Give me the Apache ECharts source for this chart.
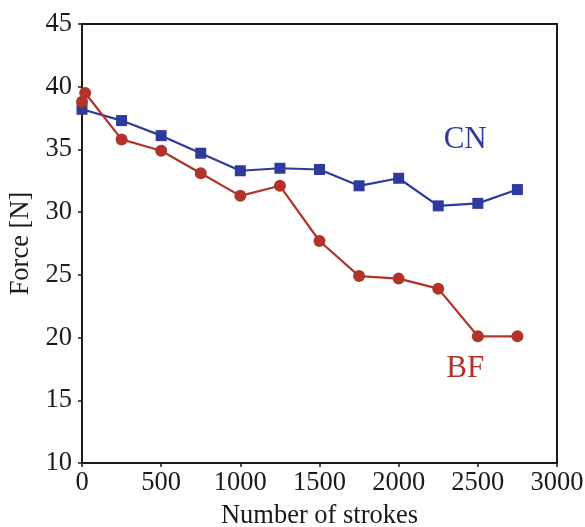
<!DOCTYPE html>
<html>
<head>
<meta charset="utf-8">
<script src="https://cdn.jsdelivr.net/npm/echarts@6/dist/echarts.min.js"></script>
<style>
  html, body { margin: 0; padding: 0; background: #fff; }
  #chart { width: 585px; height: 527px; }
</style>
</head>
<body>
<div id="chart"></div>
<script>
// data
const cnStrokes = [0, 250, 500, 750, 1000, 1250, 1500, 1750, 2000, 2250, 2500, 2750]
const cnForce = [38.2, 37.3, 36.1, 34.7, 33.3, 33.5, 33.4, 32.1, 32.7, 30.5, 30.7, 31.8]
const bfStrokes = [0, 20, 250, 500, 750, 1000, 1250, 1500, 1750, 2000, 2250, 2500, 2750]
const bfForce = [38.8, 39.5, 35.8, 34.9, 33.1, 31.3, 32.1, 27.7, 24.9, 24.7, 23.9, 20.1, 20.1]

const cnLabelAt = [2420, 35.75]
const bfLabelAt = [2420, 17.5]

const blue = '#2f3b9c'
const red = '#b1332b'
const font = 'Liberation Serif'
const textSize = 26.5

const chart = echarts.init(document.getElementById('chart'))

const pairs = (xs, ys) => xs.map((x, i) => [x, ys[i]])

// series name written in the plot next to its line
const textLabel = (name, coord, color) => ({
  symbol: 'circle',
  symbolSize: 1,
  itemStyle: { color: 'rgba(0,0,0,0)' },
  label: {
    show: true,
    formatter: name,
    color: color,
    fontFamily: font,
    fontSize: 31,
    position: 'inside'
  },
  data: [{ coord: coord }]
})

chart.setOption({
  animation: false,
  grid: {
    left: 82,
    right: 28,
    top: 24,
    bottom: 64,
    outerBoundsMode: 'none',
    containLabel: false,
    show: true,
    borderColor: '#1a1a1a',
    borderWidth: 2,
    backgroundColor: 'transparent'
  },
  xAxis: {
    type: 'value',
    min: 0,
    max: 3000,
    interval: 500,
    name: 'Number of strokes',
    nameLocation: 'middle',
    nameGap: 40,
    nameTextStyle: { fontFamily: font, fontSize: textSize, color: '#1a1a1a' },
    axisLine: { show: true, lineStyle: { color: '#1a1a1a', width: 2 } },
    axisTick: { show: true, length: 4, lineStyle: { color: '#1a1a1a', width: 1.5 } },
    axisLabel: { fontFamily: font, fontSize: textSize, color: '#1a1a1a', margin: 7, formatter: v => String(v) },
    splitLine: { show: false }
  },
  yAxis: {
    type: 'value',
    min: 10,
    max: 45,
    interval: 5,
    name: 'Force [N]',
    nameLocation: 'middle',
    nameGap: 43,
    nameTextStyle: { fontFamily: font, fontSize: textSize, color: '#1a1a1a' },
    axisLine: { show: true, lineStyle: { color: '#1a1a1a', width: 2 } },
    axisTick: { show: true, length: 4, lineStyle: { color: '#1a1a1a', width: 1.5 } },
    axisLabel: { fontFamily: font, fontSize: textSize, color: '#1a1a1a', margin: 10 },
    splitLine: { show: false }
  },
  series: [
    {
      name: 'CN',
      type: 'line',
      data: pairs(cnStrokes, cnForce),
      symbol: 'rect',
      symbolSize: 11,
      lineStyle: { color: blue, width: 2.2 },
      itemStyle: { color: blue },
      markPoint: textLabel('CN', cnLabelAt, blue)
    },
    {
      name: 'BF',
      type: 'line',
      data: pairs(bfStrokes, bfForce),
      symbol: 'circle',
      symbolSize: 12,
      lineStyle: { color: red, width: 2.2 },
      itemStyle: { color: red },
      markPoint: textLabel('BF', bfLabelAt, red)
    }
  ]
})
</script>
</body>
</html>
